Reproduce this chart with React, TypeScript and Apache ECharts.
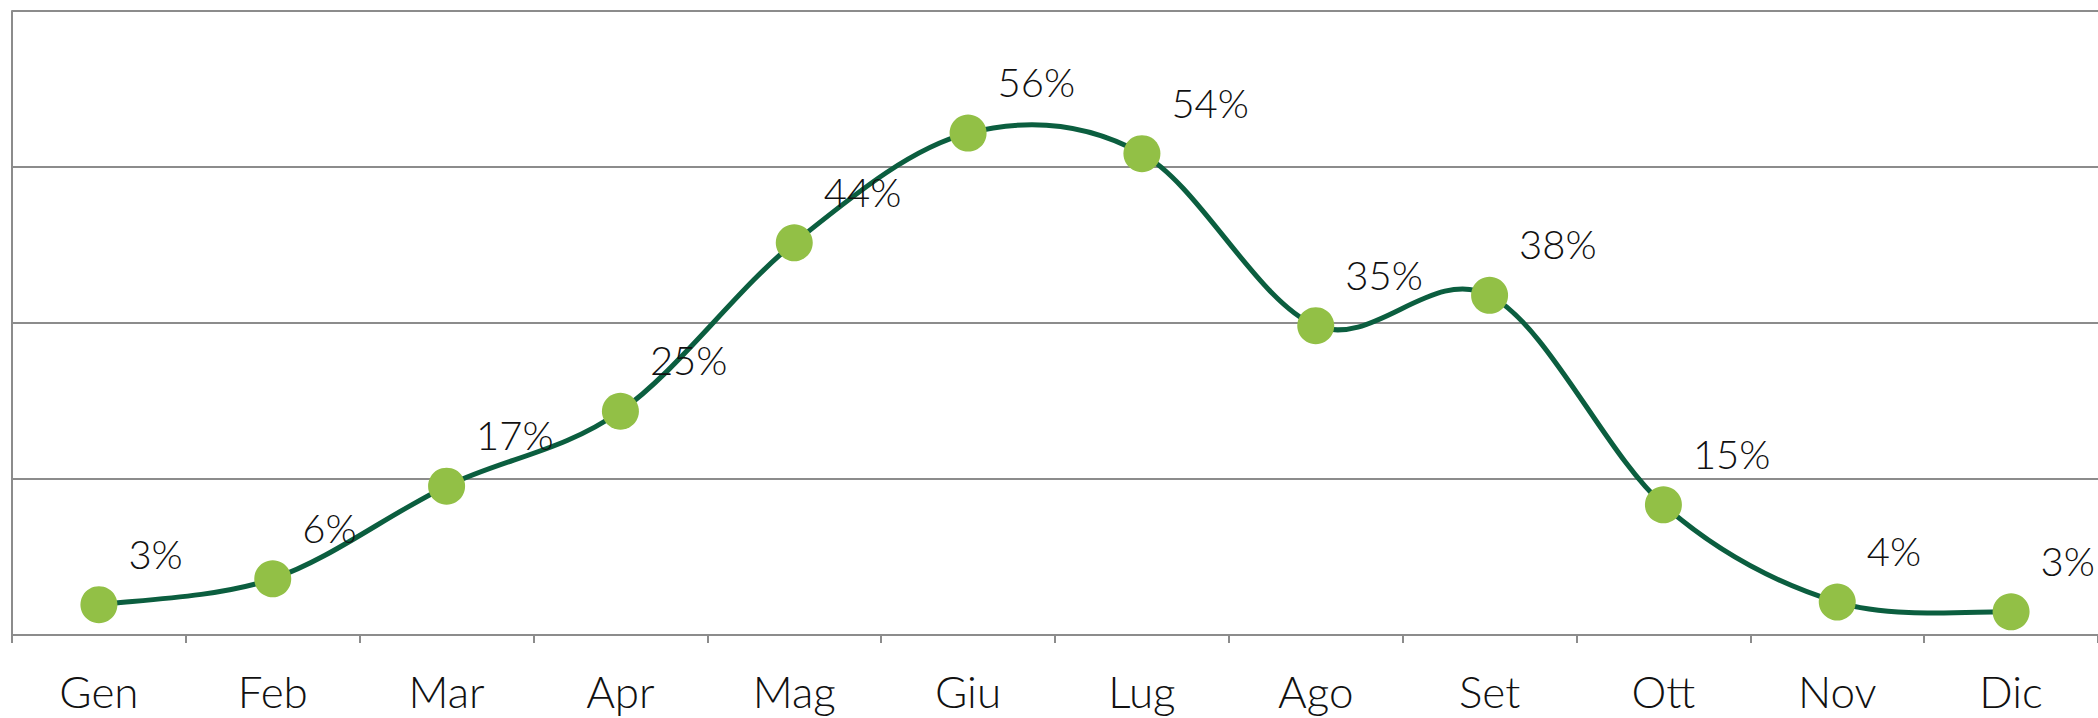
import React, { useEffect, useRef } from "react";
import * as echarts from "echarts";

const months = ["Gen", "Feb", "Mar", "Apr", "Mag", "Giu", "Lug", "Ago", "Set", "Ott", "Nov", "Dic"];
const values = [3.4, 6.3, 16.7, 25.1, 44.0, 56.3, 54.0, 34.7, 38.1, 14.6, 3.7, 2.6];
const yMin = 0;
const yMax = 70;
const yInterval = 17.5;

export default function App() {
  const ref = useRef<HTMLDivElement>(null);
  useEffect(() => {
    document.body.style.margin = "0";
    const chart = echarts.init(ref.current!, undefined, { renderer: "svg" });
    const font = "Lato";
    const n = values.length;
    chart.setOption({
      animation: false,
      backgroundColor: "#ffffff",
      grid: { left: 12, right: 0, top: 11, bottom: 83, containLabel: false },
      xAxis: {
        type: "category",
        data: months,
        boundaryGap: true,
        axisLine: { show: true, lineStyle: { color: "#8c8c8c", width: 2 } },
        axisTick: { show: true, length: 8, alignWithLabel: false, lineStyle: { color: "#8c8c8c", width: 2 } },
        axisLabel: { color: "#111111", fontSize: 44, fontFamily: font, fontWeight: 300, margin: 34 },
        splitLine: { show: false },
      },
      yAxis: {
        type: "value",
        min: yMin,
        max: yMax,
        interval: yInterval,
        axisLine: { show: true, lineStyle: { color: "#8c8c8c", width: 2 } },
        axisTick: { show: false },
        axisLabel: { show: false },
        splitLine: { show: true, lineStyle: { color: "#8c8c8c", width: 2 } },
      },
      series: [
        {
          type: "custom",
          data: values.map((v, i) => [i, v]),
          z: 2,
          silent: true,
          renderItem: (params: any, api: any) => {
            const i = params.dataIndex;
            if (i >= n - 1) return null;
            const p = (k: number) => {
              const kk = Math.max(0, Math.min(n - 1, k));
              return api.coord([kk, values[kk]]);
            };
            const p0 = p(i - 1);
            const p1 = p(i);
            const p2 = p(i + 1);
            const p3 = p(i + 2);
            const t = 1 / 6;
            return {
              type: "bezierCurve",
              shape: {
                x1: p1[0],
                y1: p1[1],
                cpx1: p1[0] + (p2[0] - p0[0]) * t,
                cpy1: p1[1] + (p2[1] - p0[1]) * t,
                cpx2: p2[0] - (p3[0] - p1[0]) * t,
                cpy2: p2[1] - (p3[1] - p1[1]) * t,
                x2: p2[0],
                y2: p2[1],
              },
              style: { stroke: "#0b5e3f", lineWidth: 5, fill: null, lineCap: "round" },
            };
          },
        },
        {
          type: "line",
          data: values,
          symbol: "circle",
          symbolSize: 37,
          showAllSymbol: true,
          lineStyle: { width: 0, opacity: 0 },
          itemStyle: { color: "#92c046", borderWidth: 0 },
          label: {
            show: true,
            position: "right",
            distance: 0,
            offset: [11, -51],
            align: "left",
            verticalAlign: "middle",
            color: "#111111",
            fontSize: 40,
            fontFamily: font,
            fontWeight: 300,
            formatter: (p: any) => Math.round(p.value) + "%",
          },
          z: 3,
        },
      ],
    });
    return () => chart.dispose();
  }, []);
  return <div ref={ref} style={{ position: "fixed", left: 0, top: 0, width: 2098, height: 718 }} />;
}
